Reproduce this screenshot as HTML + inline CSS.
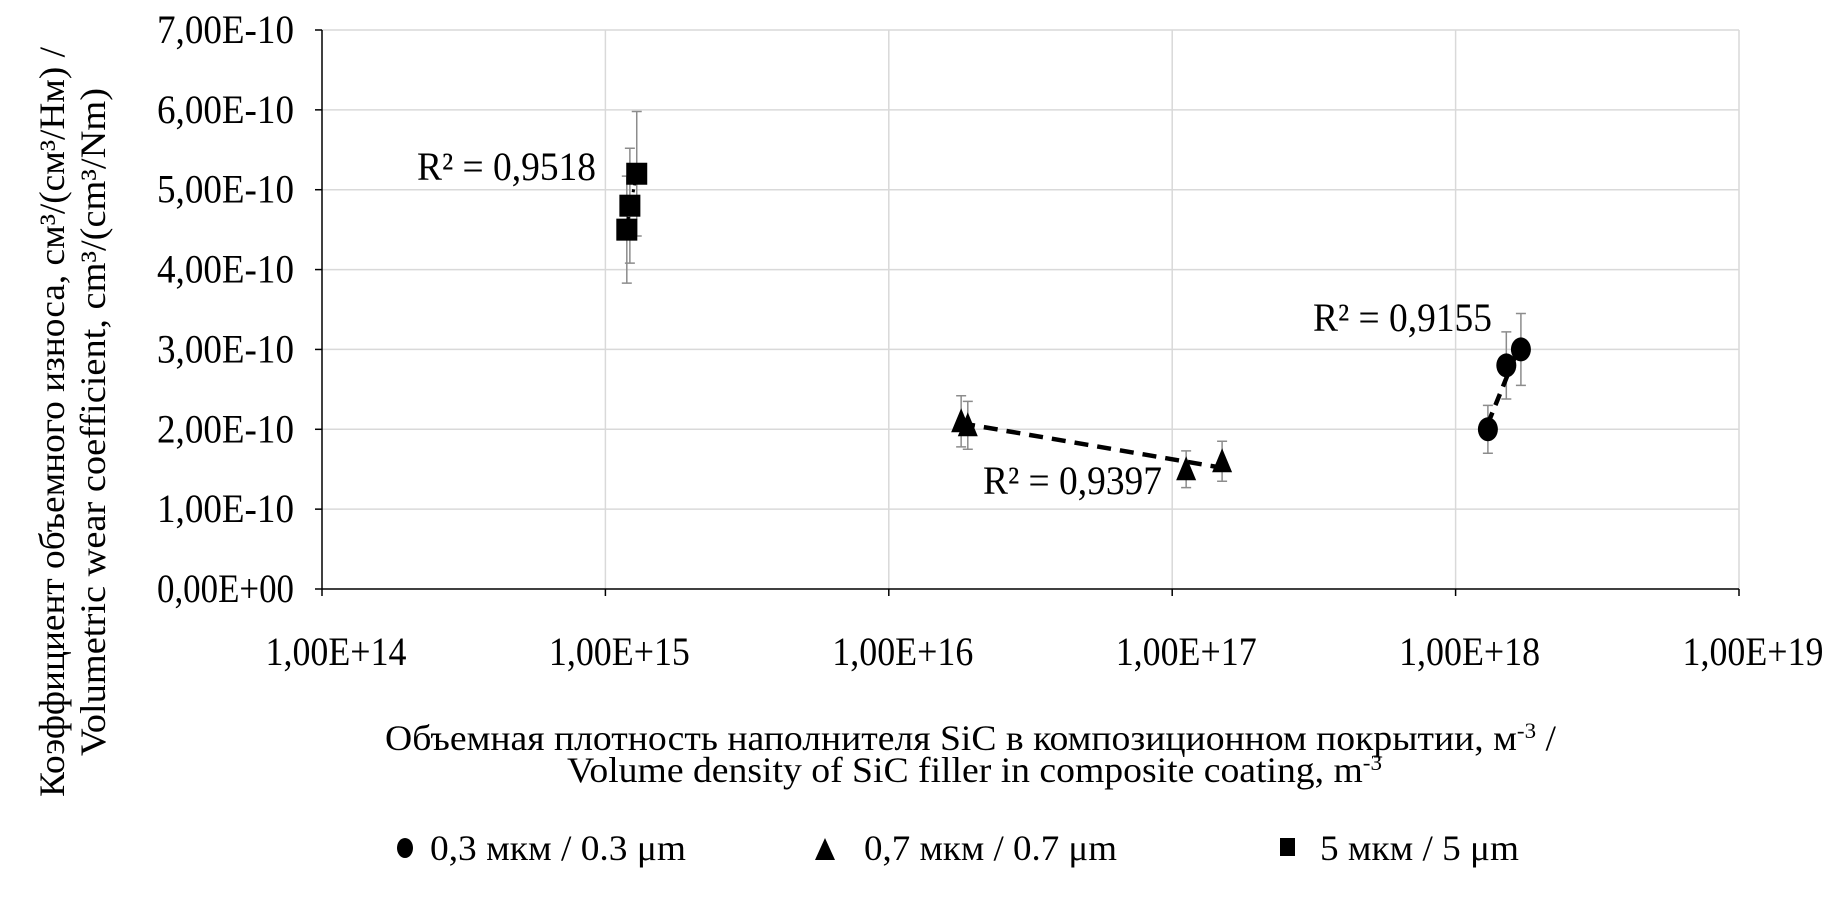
<!DOCTYPE html>
<html><head><meta charset="utf-8"><style>
html,body{margin:0;padding:0;background:#fff}
svg{display:block}
text{font-family:"Liberation Serif","Noto Serif CJK SC",serif;fill:#000}
</style></head><body>
<svg id="chart" width="1842" height="922" viewBox="0 0 1842 922" xmlns="http://www.w3.org/2000/svg">
<g id="grid"></g>
<g id="axes"></g>
<g id="marks"></g>
<text transform="translate(64,422) rotate(-90)" text-anchor="middle" font-size="36" textLength="750" lengthAdjust="spacingAndGlyphs">Коэффициент объемного износа, см³/(см³/Нм) /</text>
<text transform="translate(105,422) rotate(-90)" text-anchor="middle" font-size="36" textLength="668" lengthAdjust="spacingAndGlyphs">Volumetric wear coefficient, cm³/(cm³/Nm)</text>
<text x="385" y="750" font-size="36" textLength="1171" lengthAdjust="spacingAndGlyphs">Объемная плотность наполнителя SiC в композиционном покрытии, м<tspan dy="-12" font-size="22">-3</tspan><tspan dy="12">  /</tspan></text>
<text x="567" y="782" font-size="36" textLength="815" lengthAdjust="spacingAndGlyphs">Volume density of SiC filler in composite coating, m<tspan dy="-12" font-size="22">-3</tspan></text>
<g>
 <g>
  <ellipse cx="405" cy="848" rx="8" ry="10" fill="#000"/>
  <text x="430" y="860" font-size="36" textLength="256" lengthAdjust="spacingAndGlyphs">0,3 мкм / 0.3 μm</text>
 </g>
 <g>
  <polygon points="815,860 835,860 825,838" fill="#000"/>
  <text x="864" y="860" font-size="36" textLength="253" lengthAdjust="spacingAndGlyphs">0,7 мкм / 0.7 μm</text>
 </g>
 <g>
  <rect x="1280" y="838" width="15" height="18" fill="#000"/>
  <text x="1320" y="860" font-size="36" textLength="199" lengthAdjust="spacingAndGlyphs">5 мкм / 5 μm</text>
 </g>
</g>
</svg>
<script>
// data
const xTicks = [1e14, 1e15, 1e16, 1e17, 1e18, 1e19];
const xTickLabels = ["1,00E+14","1,00E+15","1,00E+16","1,00E+17","1,00E+18","1,00E+19"];
const yTicks = [0,1e-10,2e-10,3e-10,4e-10,5e-10,6e-10,7e-10];
const yTickLabels = ["0,00E+00","1,00E-10","2,00E-10","3,00E-10","4,00E-10","5,00E-10","6,00E-10","7,00E-10"];
const circX = [1.3e18, 1.51e18, 1.70e18];
const circY = [2.0e-10, 2.8e-10, 3.0e-10];
const circErr = [0.3e-10, 0.42e-10, 0.45e-10];
const triX = [1.8e16, 1.9e16, 1.12e17, 1.5e17];
const triY = [2.1e-10, 2.05e-10, 1.5e-10, 1.6e-10];
const triErr = [0.32e-10, 0.30e-10, 0.23e-10, 0.25e-10];
const sqX = [1.19e15, 1.22e15, 1.29e15];
const sqY = [4.5e-10, 4.8e-10, 5.2e-10];
const sqErr = [0.67e-10, 0.72e-10, 0.78e-10];
const r2Labels = ["R² = 0,9155","R² = 0,9397","R² = 0,9518"];

const NS="http://www.w3.org/2000/svg";
const L=322,R=1739,T=30,B=589;
const xMinL=14,xMaxL=19,yMax=7e-10;
function sx(v){return L+(Math.log10(v)-xMinL)/(xMaxL-xMinL)*(R-L);}
function sy(v){return B-v/yMax*(B-T);}
function mk(tag,attrs,parent){const e=document.createElementNS(NS,tag);for(const k in attrs)e.setAttribute(k,attrs[k]);parent.appendChild(e);return e;}
const grid=document.getElementById('grid'),axes=document.getElementById('axes'),marks=document.getElementById('marks');

yTicks.forEach((v,i)=>{
  const y=sy(v);
  if(i>0){const g=mk('line',{x1:L,x2:R,y1:y,y2:y,stroke:'#d9d9d9','stroke-width':1.5},grid);
  
  }
  const t=mk('line',{x1:L-7,x2:L,y1:y,y2:y,stroke:'#000','stroke-width':1.5},axes);
  
  
  const tx=mk('text',{x:294,y:y+13,'text-anchor':'end','font-size':40,textLength:137,lengthAdjust:'spacingAndGlyphs'},axes);
  tx.textContent=yTickLabels[i];
  
  
});
xTicks.forEach((v,i)=>{
  const x=sx(v);
  if(i>0){const g=mk('line',{x1:x,x2:x,y1:T,y2:B,stroke:'#d9d9d9','stroke-width':1.5},grid);
  
  }
  const t=mk('line',{x1:x,x2:x,y1:B,y2:B+7,stroke:'#000','stroke-width':1.5},axes);
  
  
  const tx=mk('text',{x:x+14,y:665,'text-anchor':'middle','font-size':40,textLength:141,lengthAdjust:'spacingAndGlyphs'},axes);
  tx.textContent=xTickLabels[i];
  
  
});
const ax1=mk('line',{x1:L,x2:L,y1:T,y2:B,stroke:'#000','stroke-width':1.5},axes);


const ax2=mk('line',{x1:L,x2:R,y1:B,y2:B,stroke:'#000','stroke-width':1.5},axes);



function errBars(xs,ys,es,name){
  xs.forEach((xv,i)=>{
    const x=sx(xv),y1=sy(ys[i]-es[i]),y2=sy(ys[i]+es[i]);
    const p=mk('path',{d:`M${x},${y1}V${y2}M${x-5},${y1}H${x+5}M${x-5},${y2}H${x+5}`,stroke:'#8c8c8c','stroke-width':1.5,fill:'none'},marks);
    
    
  });
}
function trend(xs,ys,name,dash,w){
  const lx=xs.map(v=>Math.log10(v)),n=xs.length;
  const mx=lx.reduce((a,b)=>a+b)/n,my=ys.reduce((a,b)=>a+b)/n;
  let num=0,den=0;lx.forEach((v,i)=>{num+=(v-mx)*(ys[i]-my);den+=(v-mx)*(v-mx);});
  const b=num/den,a=my-b*mx;
  const x0=Math.min(...lx),x1=Math.max(...lx);
  const p=mk('line',{x1:sx(Math.pow(10,x0)),y1:sy(a+b*x0),x2:sx(Math.pow(10,x1)),y2:sy(a+b*x1),stroke:'#000','stroke-width':w,'stroke-dasharray':dash},marks);
  
  
}
errBars(sqX,sqY,sqErr,'square');
errBars(triX,triY,triErr,'triangle');
errBars(circX,circY,circErr,'circle');
trend(triX,triY,'triangle','14 9',4.5);
trend(circX,circY,'circle','12 8',4.5);
trend(sqX,sqY,'square','3 4',3);

sqX.forEach((xv,i)=>{
  const x=sx(xv),y=sy(sqY[i]);
  const r=mk('rect',{x:x-10.5,y:y-11,width:21,height:22,fill:'#000'},marks);
  
  
});
triX.forEach((xv,i)=>{
  const x=sx(xv),y=sy(triY[i]);
  const p=mk('polygon',{points:`${x-10},${y+11} ${x+10},${y+11} ${x},${y-13}`,fill:'#000'},marks);
  
  
});
circX.forEach((xv,i)=>{
  const x=sx(xv),y=sy(circY[i]);
  const c=mk('ellipse',{cx:x,cy:y,rx:10,ry:12,fill:'#000'},marks);
  
  
});
const r2pos=[[1313,331],[983,494],[417,180]];
r2Labels.forEach((s,i)=>{
  const t=mk('text',{x:r2pos[i][0],y:r2pos[i][1],'font-size':40,textLength:179,lengthAdjust:'spacingAndGlyphs'},marks);
  t.textContent=s;
  
  
});
</script>
</body></html>
